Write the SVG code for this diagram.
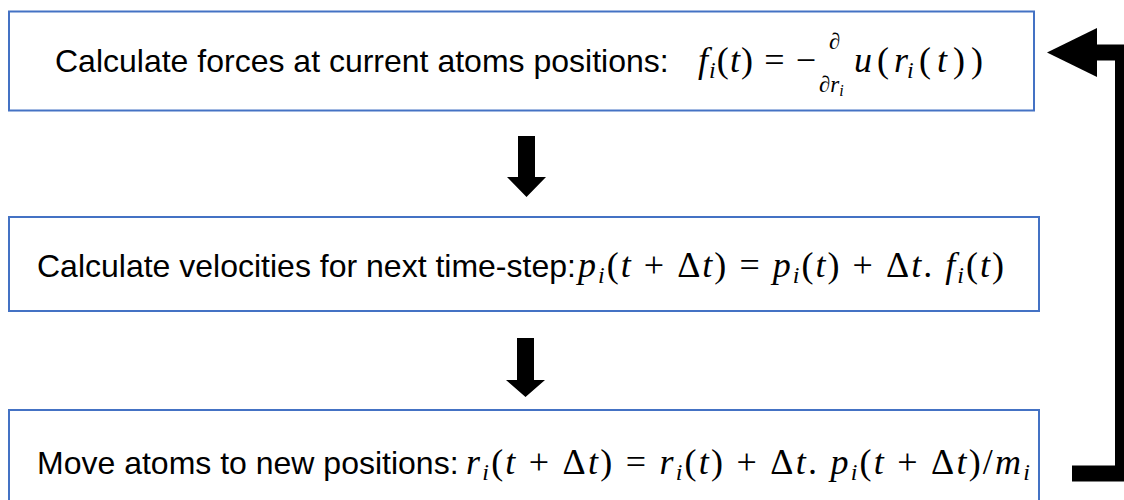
<svg xmlns="http://www.w3.org/2000/svg" width="1124" height="500" viewBox="0 0 1124 500">
<style>
.box{fill:#fff;stroke:#4472C4;stroke-width:2}
.lbl{font-family:"Liberation Sans",Arial,sans-serif;font-size:32px;fill:#000}
.m{font-family:"Liberation Serif","Times New Roman",serif;font-size:36px;fill:#000}
.it{font-style:italic}
.sub{font-size:24px;font-style:italic}
.fr{font-size:23px}
.arr{fill:#000}
</style>
<rect width="1124" height="500" fill="#fff"/>
<g id="node1">
<rect class="box" x="9" y="11.5" width="1025" height="99"/>
<text class="lbl" x="55" y="72">Calculate forces at current atoms positions:</text>
<text class="m" x="698" y="72" textLength="118" lengthAdjust="spacing"><tspan class="it">f</tspan><tspan class="sub" dy="6">i</tspan><tspan dy="-6">(</tspan><tspan class="it">t</tspan><tspan>) = −</tspan></text>
<text class="m fr" x="829" y="49"><tspan class="it">∂</tspan></text>
<text class="m fr" x="819" y="92"><tspan class="it">∂r</tspan><tspan class="it" font-size="16" dy="4">i</tspan></text>
<text class="m" y="72"><tspan class="it" x="854">u</tspan><tspan x="877">(</tspan><tspan class="it" x="894">r</tspan><tspan class="sub" x="907" dy="6">i</tspan><tspan x="919" dy="-6">(</tspan><tspan class="it" x="937">t</tspan><tspan x="953">)</tspan><tspan x="971">)</tspan></text>
</g>
<g id="node2">
<rect class="box" x="9" y="217" width="1030" height="94"/>
<text class="lbl" x="37" y="277">Calculate velocities for next time-step:</text>
<text class="m" x="578" y="277" textLength="426" lengthAdjust="spacing"><tspan class="it">p</tspan><tspan class="sub" dy="6">i</tspan><tspan dy="-6">(</tspan><tspan class="it">t</tspan><tspan> + Δ</tspan><tspan class="it">t</tspan><tspan>) = </tspan><tspan class="it">p</tspan><tspan class="sub" dy="6">i</tspan><tspan dy="-6">(</tspan><tspan class="it">t</tspan><tspan>) + Δ</tspan><tspan class="it">t</tspan><tspan>. </tspan><tspan class="it">f</tspan><tspan class="sub" dy="6">i</tspan><tspan dy="-6">(</tspan><tspan class="it">t</tspan><tspan>)</tspan></text>
</g>
<g id="node3">
<rect class="box" x="9" y="410" width="1030" height="100"/>
<text class="lbl" x="37" y="474">Move atoms to new positions:</text>
<text class="m" x="466" y="474" textLength="564" lengthAdjust="spacing"><tspan class="it">r</tspan><tspan class="sub" dy="6">i</tspan><tspan dy="-6">(</tspan><tspan class="it">t</tspan><tspan> + Δ</tspan><tspan class="it">t</tspan><tspan>) = </tspan><tspan class="it">r</tspan><tspan class="sub" dy="6">i</tspan><tspan dy="-6">(</tspan><tspan class="it">t</tspan><tspan>) + Δ</tspan><tspan class="it">t</tspan><tspan>. </tspan><tspan class="it">p</tspan><tspan class="sub" dy="6">i</tspan><tspan dy="-6">(</tspan><tspan class="it">t</tspan><tspan> + Δ</tspan><tspan class="it">t</tspan><tspan>)/</tspan><tspan class="it">m</tspan><tspan class="sub" dy="6">i</tspan></text>
</g>
<g id="connectors">
<polygon class="arr" points="518,136 535,136 535,177 546,177 526.5,197 507,177 518,177"/>
<polygon class="arr" points="517,338 534,338 534,380 545,380 525.5,397 506,380 517,380"/>
<path d="M1072 473.5 H1123 V52.5 H1095" fill="none" stroke="#000" stroke-width="16"/>
<polygon class="arr" points="1047,52.5 1097,28 1097,77"/>
</g>
</svg>
